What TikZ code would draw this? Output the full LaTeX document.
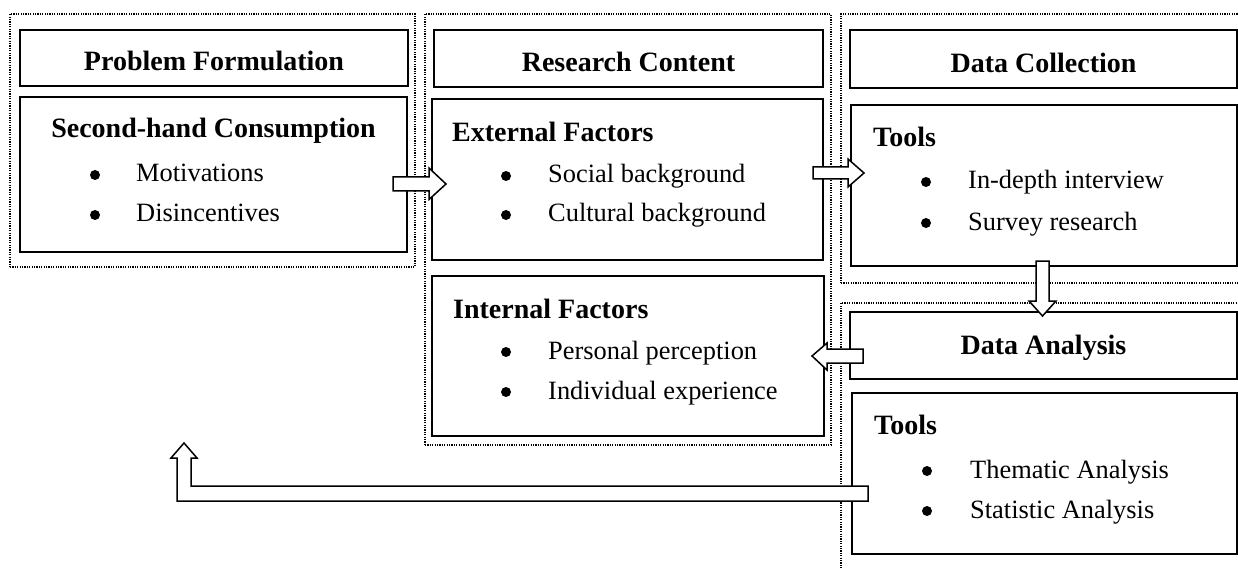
\documentclass[tikz,border=0pt]{standalone}
\usepackage{fontspec}
\setmainfont{Liberation Serif}
\usetikzlibrary{fit,calc}
\begin{document}
\begin{tikzpicture}[x=1pt,y=-1pt,
 box/.style={draw=black, line width=1.6pt, fill=white, inner sep=0pt},
 grp/.style={draw=black, line width=1.2pt, dash pattern=on 1.2pt off 1.2pt, inner sep=0pt},
 hd/.style={font=\fontsize{28}{30}\selectfont\bfseries, inner sep=0pt, anchor=base},
 sub/.style={font=\fontsize{28}{30}\selectfont\bfseries, inner sep=0pt, anchor=base west},
 itm/.style={font=\fontsize{26.4}{30}\selectfont, inner sep=0pt, anchor=base west},
 bul/.style={circle, fill=black, inner sep=0pt, minimum size=10pt, yshift=7pt},
 barr/.style={draw=black, line width=1.5pt, fill=white, line join=miter}]
\clip (0,0) rectangle (1238,569);
\fill[white] (0,0) rectangle (1238,569);

% dotted groups
\node[grp, fit={(10,14) (415,267)}] (g1) {};
\node[grp, fit={(425,14) (831,445)}] (g2) {};
\node[grp, fit={(841,14) (1260,283)}] (g3) {};
\node[grp, fit={(841,303) (1260,600)}] (g4) {};

% boxes
\node[box, fit={(20,30) (408,86)}] (pf) {};
\node[box, fit={(20,97) (407,252)}] (sh) {};
\node[box, fit={(434,30) (823,87)}] (rc) {};
\node[box, fit={(432,99) (823,260)}] (ef) {};
\node[box, fit={(432,276) (824,436)}] (if) {};
\node[box, fit={(850,30) (1237,88)}] (dc) {};
\node[box, fit={(851,105) (1237,266)}] (t1) {};
\node[box, fit={(850,312) (1237,379)}] (da) {};
\node[box, fit={(852,393) (1237,554)}] (t2) {};

% headings
\node[hd] (pft) at (214,71) {Problem Formulation};
\node[hd] (rct) at (628.5,72) {Research Content};
\node[hd] (dct) at (1043.5,73) {Data Collection};
\node[hd] (dat) at (1043.5,354) {Data Analysis};

% problem box
\node[hd] (sht) at (213.5,138) {Second-hand Consumption};
\node[bul] (shb1) at (95,182) {};
\node[itm] (shi1) at (136,182) {Motivations};
\node[bul] (shb2) at (95,222) {};
\node[itm] (shi2) at (136,222) {Disincentives};

% external
\node[sub] (eft) at (452,142) {External Factors};
\node[bul] (efb1) at (506,183) {};
\node[itm] (efi1) at (548,183) {Social background};
\node[bul] (efb2) at (506,222) {};
\node[itm] (efi2) at (548,222) {Cultural background};

% internal
\node[sub] (ift) at (453,318) {Internal Factors};
\node[bul] (ifb1) at (506,359) {};
\node[itm] (ifi1) at (548,359) {Personal perception};
\node[bul] (ifb2) at (506,399) {};
\node[itm] (ifi2) at (548,399) {Individual experience};

% tools 1
\node[sub] (t1t) at (873,147) {Tools};
\node[bul] (t1b1) at (926,189) {};
\node[itm] (t1i1) at (968,189) {In-depth interview};
\node[bul] (t1b2) at (926,230) {};
\node[itm] (t1i2) at (968,230) {Survey research};

% tools 2
\node[sub] (t2t) at (874,434) {Tools};
\node[bul] (t2b1) at (927,478) {};
\node[itm] (t2i1) at (970,478) {Thematic Analysis};
\node[bul] (t2b2) at (927,518) {};
\node[itm] (t2i2) at (970,518) {Statistic Analysis};

% block arrows
\coordinate (a1) at (393,184);
\coordinate (a2) at (813,173);
\coordinate (a3) at (1042.5,261);
\coordinate (a4) at (863,356);
\coordinate (a5) at (868,493.5);

\draw[barr, shift={(a1)}] (0,-7) -- (36,-7) -- (36,-16) -- (53,0) -- (36,15.5) -- (36,7) -- (0,7) -- cycle;
\draw[barr, shift={(a2)}] (0,-6) -- (35,-6) -- (35,-14) -- (51,0) -- (35,14) -- (35,6) -- (0,6) -- cycle;
\draw[barr, shift={(a3)}] (-6.5,0) -- (6.5,0) -- (6.5,40) -- (13.5,40) -- (0,55) -- (-13.5,40) -- (-6.5,40) -- cycle;
\draw[barr, shift={(a4)}] (0,-7) -- (-36,-7) -- (-36,-13) -- (-51,0) -- (-36,14) -- (-36,7) -- (0,7) -- cycle;
\draw[barr, shift={(a5)}] (0,-7.5) -- (-677,-7.5) -- (-677,-35.5) -- (-671,-35.5) -- (-684,-50.5) -- (-697,-35.5) -- (-691,-35.5) -- (-691,7.5) -- (0,7.5) -- cycle;
\end{tikzpicture}
\end{document}
